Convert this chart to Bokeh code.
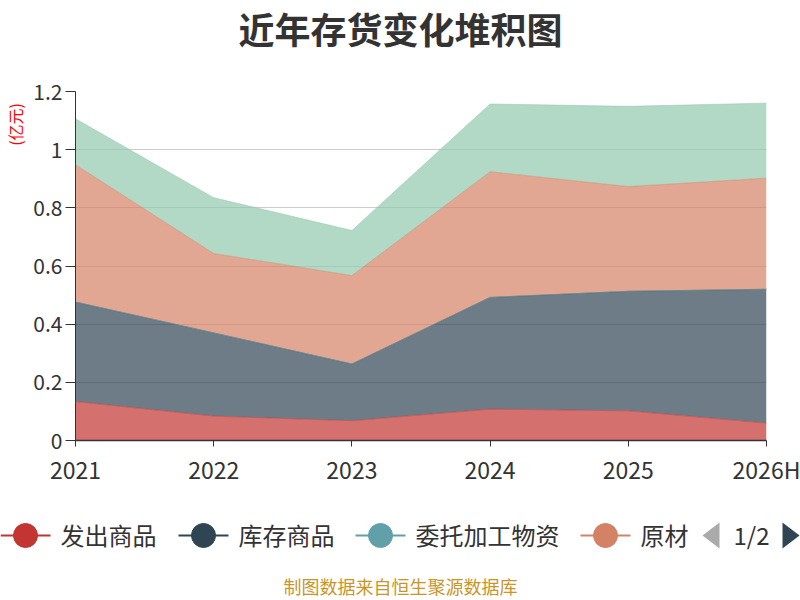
import numpy as np
from bokeh.plotting import figure
from bokeh.layouts import column, row
from bokeh.models import ColumnDataSource, Range1d, FixedTicker, NumeralTickFormatter
from bokeh.core.properties import value
from bokeh.embed import file_html
from bokeh.resources import INLINE

# ---------------- data ----------------
years = ["2021", "2022", "2023", "2024", "2025", "2026H"]
series_names = ["发出商品", "库存商品", "委托加工物资", "原材料", "在产品"]
fachu = [0.134, 0.084, 0.068, 0.108, 0.102, 0.060]
kucun = [0.342, 0.286, 0.195, 0.384, 0.411, 0.460]
weituo = [0.0, 0.0, 0.0, 0.0, 0.0, 0.0]
yuancailiao = [0.472, 0.273, 0.304, 0.432, 0.360, 0.382]
zaichan = [0.158, 0.192, 0.155, 0.233, 0.276, 0.258]
y_ticks = [0, 0.2, 0.4, 0.6, 0.8, 1, 1.2]
legend_labels = ["发出商品", "库存商品", "委托加工物资", "原材"]
pager_text = "1/2"
title_text = "近年存货变化堆积图"
unit_text = "(亿元)"
footer_text = "制图数据来自恒生聚源数据库"

colors = ["#c23531", "#2f4554", "#61a0a8", "#d48265", "#91c7ae"]
CJK = "Noto Sans CJK SC"
TXT = "#333333"

W, H = 800, 600
TOP_H = 66        # y 0..66
MID_H = 424       # y 66..490
BOT_H = H - TOP_H - MID_H
UNIT_W = 28       # x 0..28
FL, FR, FT, FB = 75, 766, 91, 440


def canvas(w, h):
    f = figure(width=w, height=h, x_range=Range1d(0, w), y_range=Range1d(h, 0),
               x_axis_type=None, y_axis_type=None, output_backend="svg",
               toolbar_location=None, min_border=0)
    f.outline_line_color = None
    f.grid.grid_line_color = None
    return f


# ---------------- title ----------------
head = canvas(W, TOP_H)
head.text(x=[400], y=[27], text=[title_text], text_font=value(CJK),
          text_font_size="36px", text_font_style="bold", text_color=TXT,
          text_align="center", text_baseline="middle")

# ---------------- unit label ----------------
unit = canvas(UNIT_W, MID_H)
unit.text(x=[14], y=[106 - TOP_H], text=[unit_text], text_font=value(CJK),
          text_font_size="16px", text_color="#ff0000", angle=np.pi / 2,
          text_align="center", text_baseline="middle")

# ---------------- main chart ----------------
keys = ["fachu", "kucun", "weituo", "yuancailiao", "zaichan"]
source = ColumnDataSource(dict(x=list(range(len(years))), fachu=fachu, kucun=kucun,
                               weituo=weituo, yuancailiao=yuancailiao, zaichan=zaichan))
MW = W - UNIT_W
p = figure(width=MW, height=MID_H, x_range=Range1d(0, len(years) - 1), y_range=Range1d(0, 1.2),
           output_backend="svg", toolbar_location=None,
           min_border_left=FL - UNIT_W, min_border_right=W - FR,
           min_border_top=FT - TOP_H, min_border_bottom=(TOP_H + MID_H) - FB)
p.outline_line_color = None

p.varea_stack(stackers=keys, x="x", source=source, color=colors, fill_alpha=0.7)
tops = np.cumsum(np.array([fachu, kucun, weituo, yuancailiao, zaichan]), axis=0)
for i, c in enumerate(colors):
    p.line(list(range(len(years))), list(tops[i]), line_color=c, line_width=1, line_alpha=0.5)

yax = p.yaxis[0]
yax.ticker = FixedTicker(ticks=y_ticks)
yax.formatter = NumeralTickFormatter(format="0.[0]")
yax.major_label_text_font = CJK
yax.major_label_text_font_size = "21px"
yax.major_label_text_color = TXT
yax.axis_line_color = TXT
yax.major_tick_line_color = TXT
yax.major_tick_out = 10
yax.major_tick_in = 0
yax.minor_tick_out = 0
yax.minor_tick_in = 0
yax.major_label_standoff = 3

xax = p.xaxis[0]
xax.ticker = FixedTicker(ticks=list(range(len(years))))
xax.major_label_overrides = {i: y for i, y in enumerate(years)}
xax.major_label_text_font = CJK
xax.major_label_text_font_size = "23px"
xax.major_label_text_color = TXT
xax.axis_line_color = TXT
xax.axis_line_width = 1.5
xax.major_tick_line_color = TXT
xax.major_tick_out = 6
xax.major_tick_in = 0
xax.minor_tick_out = 0
xax.minor_tick_in = 0
xax.major_label_standoff = 5

p.xgrid.grid_line_color = None
p.ygrid.grid_line_color = "#cccccc"
p.ygrid.ticker = FixedTicker(ticks=y_ticks)

# ---------------- legend + footer ----------------
bot = canvas(W, BOT_H)
oy = TOP_H + MID_H
LY = 535 - oy
item_x = [0, 178, 355, 580]
bot.segment(x0=item_x, y0=[LY] * 4, x1=[x + 50 for x in item_x], y1=[LY] * 4,
            line_color=colors[:4], line_width=2)
bot.scatter(x=[x + 25 for x in item_x], y=[LY] * 4, size=24, marker="circle",
            fill_color=colors[:4], line_color=colors[:4])
bot.text(x=[x + 60 for x in item_x], y=[LY - 1] * 4, text=legend_labels, text_font=value(CJK),
         text_font_size="24px", text_color=TXT, text_align="left", text_baseline="middle")
# pager
bot.patches(xs=[[719, 719, 702], [782, 782, 799]],
            ys=[[522 - oy, 548 - oy, 535 - oy], [522 - oy, 548 - oy, 535 - oy]],
            fill_color=["#aaaaaa", "#2f4554"], line_color=None)
bot.text(x=[751], y=[LY - 1], text=[pager_text], text_font=value(CJK),
         text_font_size="24px", text_color=TXT, text_align="center", text_baseline="middle")
bot.text(x=[400], y=[585 - oy], text=[footer_text], text_font=value(CJK),
         text_font_size="18px", text_color="#c89628", text_align="center", text_baseline="middle")

layout = column(head, row(unit, p), bot)
open("out.html", "w").write(file_html(layout, INLINE))
